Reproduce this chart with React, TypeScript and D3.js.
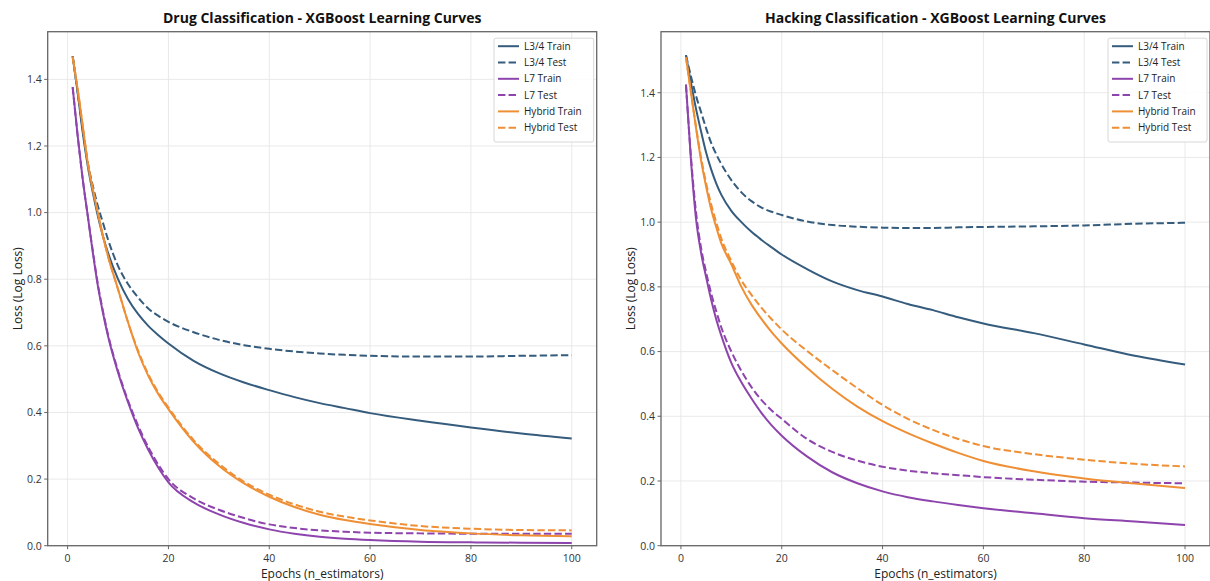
import React from "react";
import * as d3 from "d3";

const epochs = [1, 2, 3, 4, 5, 6, 7, 8, 10, 12, 14, 16, 18, 20, 25, 30, 35, 40, 45, 50, 55, 60, 70, 80, 90, 100];

const drugL34Train = [1.47, 1.36, 1.24, 1.14, 1.06, 0.99, 0.93, 0.88, 0.8, 0.74, 0.695, 0.66, 0.632, 0.607, 0.555, 0.518, 0.49, 0.467, 0.446, 0.428, 0.413, 0.398, 0.375, 0.355, 0.337, 0.322];
const drugL34Test = [1.47, 1.36, 1.25, 1.15, 1.08, 1.02, 0.97, 0.92, 0.84, 0.785, 0.745, 0.712, 0.69, 0.672, 0.641, 0.618, 0.602, 0.591, 0.583, 0.577, 0.573, 0.57, 0.568, 0.568, 0.57, 0.572];
const drugL7Train = [1.377, 1.23, 1.1, 0.99, 0.88, 0.78, 0.7, 0.63, 0.52, 0.43, 0.352, 0.288, 0.234, 0.19, 0.13, 0.094, 0.068, 0.049, 0.036, 0.027, 0.021, 0.017, 0.012, 0.01, 0.009, 0.008];
const drugL7Test = [1.377, 1.23, 1.1, 0.99, 0.885, 0.785, 0.705, 0.635, 0.525, 0.435, 0.36, 0.296, 0.243, 0.2, 0.142, 0.108, 0.083, 0.064, 0.053, 0.046, 0.042, 0.039, 0.037, 0.036, 0.036, 0.036];
const drugHybridTrain = [1.468, 1.37, 1.26, 1.15, 1.07, 1.0, 0.93, 0.87, 0.77, 0.67, 0.58, 0.51, 0.455, 0.41, 0.312, 0.24, 0.187, 0.147, 0.116, 0.093, 0.077, 0.065, 0.047, 0.037, 0.031, 0.028];
const drugHybridTest = [1.468, 1.37, 1.26, 1.15, 1.07, 1.0, 0.93, 0.87, 0.77, 0.67, 0.585, 0.515, 0.46, 0.415, 0.317, 0.246, 0.192, 0.153, 0.124, 0.102, 0.087, 0.076, 0.059, 0.051, 0.047, 0.046];

const hackL34Train = [1.516, 1.43, 1.35, 1.28, 1.215, 1.163, 1.12, 1.085, 1.035, 1.0, 0.97, 0.945, 0.922, 0.9, 0.855, 0.817, 0.79, 0.77, 0.747, 0.728, 0.706, 0.687, 0.657, 0.622, 0.587, 0.56];
const hackL34Test = [1.516, 1.45, 1.39, 1.34, 1.29, 1.245, 1.21, 1.18, 1.13, 1.092, 1.065, 1.045, 1.032, 1.022, 1.002, 0.991, 0.986, 0.983, 0.982, 0.982, 0.984, 0.985, 0.987, 0.99, 0.995, 0.998];
const hackL7Train = [1.425, 1.19, 1.01, 0.905, 0.83, 0.76, 0.7, 0.65, 0.565, 0.505, 0.455, 0.41, 0.372, 0.34, 0.276, 0.227, 0.193, 0.168, 0.15, 0.137, 0.126, 0.116, 0.1, 0.085, 0.075, 0.064];
const hackL7Test = [1.425, 1.2, 1.03, 0.92, 0.845, 0.78, 0.725, 0.675, 0.6, 0.54, 0.49, 0.45, 0.418, 0.392, 0.33, 0.29, 0.263, 0.244, 0.232, 0.224, 0.218, 0.212, 0.204, 0.198, 0.195, 0.193];
const hackHybridTrain = [1.51, 1.4, 1.29, 1.19, 1.11, 1.04, 0.985, 0.935, 0.87, 0.8, 0.745, 0.7, 0.66, 0.625, 0.55, 0.485, 0.43, 0.385, 0.348, 0.316, 0.287, 0.262, 0.23, 0.208, 0.192, 0.178];
const hackHybridTest = [1.51, 1.4, 1.295, 1.2, 1.12, 1.055, 1.0, 0.95, 0.88, 0.82, 0.775, 0.735, 0.7, 0.668, 0.602, 0.543, 0.487, 0.435, 0.392, 0.358, 0.33, 0.308, 0.283, 0.266, 0.253, 0.245];

const seriesNames = ["L3/4 Train", "L3/4 Test", "L7 Train", "L7 Test", "Hybrid Train", "Hybrid Test"];
const xTicks = [0, 20, 40, 60, 80, 100];
const yTicks = [0, 0.2, 0.4, 0.6, 0.8, 1.0, 1.2, 1.4];

const COLORS = ["#355c7d", "#355c7d", "#8e44ad", "#8e44ad", "#ef8f35", "#ef8f35"];
const DASHED = [false, true, false, true, false, true];
const FONT = "'Open Sans', 'Noto Sans', sans-serif";

type PanelProps = {
  title: string;
  data: number[][];
  x0: number;
  x1: number;
  y0: number;
  y1: number;
  legendX: number;
};

function Panel({ title, data, x0, x1, y0, y1, legendX }: PanelProps) {
  const xmin = d3.min(epochs)!;
  const xmax = d3.max(epochs)!;
  const xm = (xmax - xmin) * 0.05;
  const x = d3.scaleLinear().domain([xmin - xm, xmax + xm]).range([x0, x1]);
  const all = data.flat();
  const vmax = d3.max(all)!;
  const vmin = d3.min(all)!;
  const y = d3.scaleLinear().domain([0, vmax + (vmax - vmin) * 0.05]).range([y1, y0]);
  const line = d3
    .line<number>()
    .x((_, i) => x(epochs[i]))
    .y((d) => y(d))
    .curve(d3.curveMonotoneX);
  const cx = (x0 + x1) / 2;
  const cy = (y0 + y1) / 2;
  const legendTop = y0 + 6.5;
  const rowH = 16.3;
  return (
    <g>
      <defs>
        <clipPath id={"clip" + x0}>
          <rect x={x0} y={y0} width={x1 - x0} height={y1 - y0} />
        </clipPath>
      </defs>
      {xTicks.map((t) => (
        <line key={"gx" + t} x1={x(t)} x2={x(t)} y1={y0} y2={y1} stroke="#e6e6e6" strokeWidth={0.9} />
      ))}
      {yTicks.map((t) => (
        <line key={"gy" + t} x1={x0} x2={x1} y1={y(t)} y2={y(t)} stroke="#e6e6e6" strokeWidth={0.9} />
      ))}
      <g clipPath={`url(#clip${x0})`}>
        {data.map((s, i) => (
          <path
            key={i}
            d={line(s) || ""}
            fill="none"
            stroke={COLORS[i]}
            strokeWidth={2}
            strokeDasharray={DASHED[i] ? "7.4 3.2" : undefined}
          />
        ))}
      </g>
      <rect x={x0} y={y0} width={x1 - x0} height={y1 - y0} fill="none" stroke="#666" strokeWidth={1.3} />
      {xTicks.map((t) => (
        <g key={"tx" + t}>
          <line x1={x(t)} x2={x(t)} y1={y1} y2={y1 + 3.5} stroke="#666" strokeWidth={1} />
          <text x={x(t)} y={y1 + 16} textAnchor="middle" fontSize={10.5} fill="#333" fontFamily={FONT}>
            {t}
          </text>
        </g>
      ))}
      {yTicks.map((t) => (
        <g key={"ty" + t}>
          <line x1={x0 - 3.5} x2={x0} y1={y(t)} y2={y(t)} stroke="#666" strokeWidth={1} />
          <text x={x0 - 6} y={y(t) + 3.8} textAnchor="end" fontSize={10.5} fill="#333" fontFamily={FONT}>
            {t.toFixed(1)}
          </text>
        </g>
      ))}
      <text x={cx} y={23} textAnchor="middle" fontSize={14} fontWeight="bold" fill="#111" fontFamily={FONT}>
        {title}
      </text>
      <text x={cx} y={578} textAnchor="middle" fontSize={12} fill="#222" fontFamily={FONT}>
        Epochs (n_estimators)
      </text>
      <text
        transform={`translate(${x0 - 26},${cy}) rotate(-90)`}
        textAnchor="middle"
        fontSize={12}
        fill="#222"
        fontFamily={FONT}
      >
        Loss (Log Loss)
      </text>
      <g>
        <rect
          x={legendX}
          y={legendTop}
          width={x1 - 3 - legendX}
          height={rowH * 6 + 6}
          fill="white"
          fillOpacity={0.85}
          stroke="#d8d8d8"
          strokeWidth={1}
          rx={2}
        />
        {seriesNames.map((n, i) => (
          <g key={n}>
            <line
              x1={legendX + 4}
              x2={legendX + 25}
              y1={legendTop + 8 + i * rowH}
              y2={legendTop + 8 + i * rowH}
              stroke={COLORS[i]}
              strokeWidth={2}
              strokeDasharray={DASHED[i] ? "7.4 3.2" : undefined}
            />
            <text x={legendX + 30} y={legendTop + 11.5 + i * rowH} fontSize={10} fill="#222" fontFamily={FONT}>
              {n}
            </text>
          </g>
        ))}
      </g>
    </g>
  );
}

export default function App() {
  return (
    <svg
      width={1210}
      height={581}
      style={{ position: "absolute", left: 0, top: 0, background: "white" }}
    >
      <rect x={0} y={0} width={1210} height={581} fill="white" />
      <Panel
        title="Drug Classification - XGBoost Learning Curves"
        data={[drugL34Train, drugL34Test, drugL7Train, drugL7Test, drugHybridTrain, drugHybridTest]}
        x0={47.7}
        x1={596.7}
        y0={31.7}
        y1={545.7}
        legendX={494}
      />
      <Panel
        title="Hacking Classification - XGBoost Learning Curves"
        data={[hackL34Train, hackL34Test, hackL7Train, hackL7Test, hackHybridTrain, hackHybridTest]}
        x0={661}
        x1={1210}
        y0={31.7}
        y1={545.7}
        legendX={1108}
      />
    </svg>
  );
}
